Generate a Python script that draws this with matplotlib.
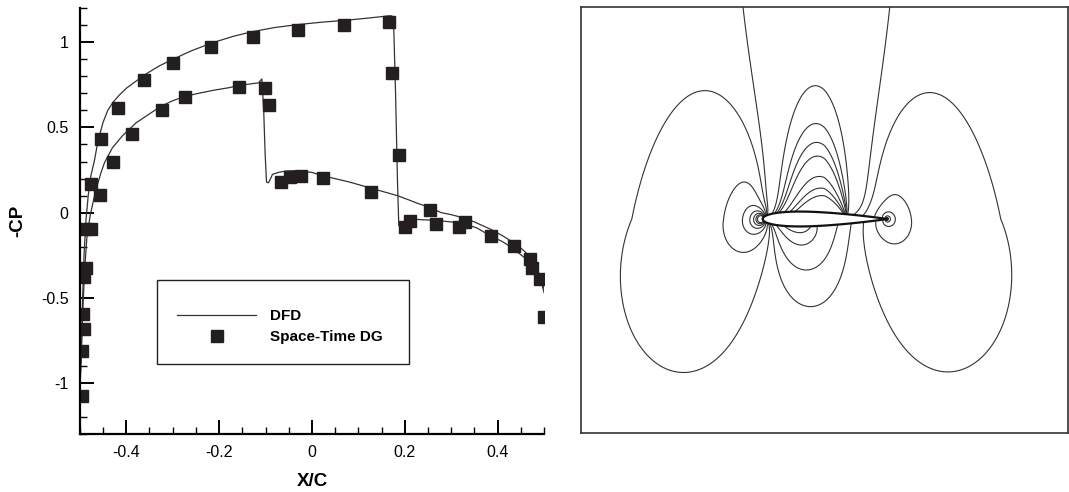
import numpy as np
import matplotlib
matplotlib.use("Agg")
import matplotlib.pyplot as plt
from matplotlib.ticker import MultipleLocator
from matplotlib.patches import Rectangle

plt.rcParams['font.family'] = ['Liberation Sans', 'DejaVu Sans']
plt.rcParams['axes.unicode_minus'] = False

# DFD surface distributions (-Cp), upper and lower surface
up_x = [-0.5, -0.497, -0.494, -0.491, -0.487, -0.482, -0.476, -0.469, -0.463, -0.456,
        -0.450, -0.440, -0.428, -0.415, -0.400, -0.380, -0.360, -0.330, -0.300, -0.260,
        -0.217, -0.170, -0.126, -0.080, -0.031, 0.020, 0.070, 0.120, 0.167, 0.172,
        0.176, 0.180, 0.184, 0.187, 0.194, 0.205, 0.217, 0.240, 0.263, 0.290,
        0.324, 0.355, 0.385, 0.410, 0.430, 0.453, 0.470, 0.482, 0.492, 0.500]
up_cp = [-1.05, -0.80, -0.50, -0.25, -0.05, 0.10, 0.22, 0.30, 0.39, 0.47,
         0.53, 0.60, 0.65, 0.69, 0.73, 0.77, 0.81, 0.86, 0.90, 0.95,
         0.995, 1.035, 1.064, 1.087, 1.104, 1.118, 1.129, 1.142, 1.156, 1.155,
         1.10, 0.70, 0.20, -0.078, -0.060, -0.045, -0.039, -0.042, -0.045, -0.052,
         -0.062, -0.090, -0.137, -0.170, -0.205, -0.254, -0.29, -0.33, -0.39, -0.47]

lo_x = [-0.5, -0.497, -0.494, -0.490, -0.485, -0.478, -0.470, -0.463, -0.455, -0.447,
        -0.430, -0.409, -0.379, -0.350, -0.325, -0.300, -0.272, -0.240, -0.211, -0.180,
        -0.157, -0.135, -0.115, -0.108, -0.104, -0.101, -0.098, -0.094, -0.090, -0.085,
        -0.072, -0.058, -0.040, -0.027, 0.000, 0.026, 0.080, 0.128, 0.186, 0.230,
        0.255, 0.278, 0.300, 0.324, 0.350, 0.385, 0.410, 0.434, 0.455, 0.470,
        0.482, 0.492, 0.500]
lo_cp = [-1.05, -0.85, -0.60, -0.35, -0.15, -0.02, 0.08, 0.156, 0.23, 0.293,
         0.38, 0.449, 0.527, 0.58, 0.625, 0.657, 0.684, 0.703, 0.719, 0.733,
         0.746, 0.755, 0.762, 0.785, 0.60, 0.35, 0.18, 0.175, 0.195, 0.225,
         0.236, 0.244, 0.246, 0.244, 0.236, 0.215, 0.180, 0.143, 0.098, 0.052,
         0.029, 0.000, -0.012, -0.029, -0.055, -0.098, -0.135, -0.176, -0.22, -0.26,
         -0.31, -0.38, -0.45]

# Space-Time DG points
dg_x = [-0.495, -0.495, -0.491, -0.494, -0.492, -0.486, -0.489, -0.476, -0.475, -0.456,
        -0.454, -0.429, -0.418, -0.388, -0.361, -0.324, -0.299, -0.273, -0.217, -0.157,
        -0.126, -0.102, -0.092, -0.066, -0.047, -0.031, -0.024, 0.024, 0.070, 0.128,
        0.166, 0.173, 0.187, 0.200, 0.211, 0.255, 0.267, 0.316, 0.330, 0.386,
        0.436, 0.469, 0.474, 0.492, 0.499]
dg_cp = [-1.074, -0.813, -0.686, -0.596, -0.381, -0.326, -0.098, -0.096, 0.168, 0.105,
         0.434, 0.297, 0.617, 0.463, 0.777, 0.602, 0.879, 0.678, 0.973, 0.736,
         1.031, 0.732, 0.631, 0.180, 0.209, 1.074, 0.215, 0.201, 1.102, 0.123,
         1.117, 0.820, 0.340, -0.084, -0.051, 0.014, -0.064, -0.084, -0.053, -0.135,
         -0.195, -0.273, -0.328, -0.391, -0.615]

# contour field settings
beta_up = 0.3   # far-field y-stretch above the airfoil
beta_lo = 0.7   # and below
rho = 0.2       # no stretch close to leading / trailing edge
thick = 0.12
levels_all = [-0.9, -0.75, -0.6, -0.45, -0.3, -0.15, -0.03, 0.06]
levels_up = [0.39, 0.5, 0.57, 0.63, 0.74, 0.82, 0.88]
levels_lo = [0.15, 0.3, 0.45, 0.6, 0.75]

fig = plt.figure(figsize=(10.69, 4.92), dpi=100)

# ---- left: Cp plot
ax = fig.add_axes([0.0747, 0.1179, 0.4343, 0.8653])
ax.plot(up_x, up_cp, color='#333333', lw=0.9, label='DFD')
ax.plot(lo_x, lo_cp, color='#333333', lw=0.9)
ax.plot(dg_x, dg_cp, 's', color='#231f20', ms=9, ls='none', label='Space-Time DG')
ax.set_xlim(-0.5, 0.5)
ax.set_ylim(-1.3, 1.2)
ax.spines['top'].set_visible(False)
ax.spines['right'].set_visible(False)
for s in ['left', 'bottom']:
    ax.spines[s].set_linewidth(1.6)
ax.xaxis.set_minor_locator(MultipleLocator(0.05))
ax.yaxis.set_minor_locator(MultipleLocator(0.1))
ax.set_xticks([-0.4, -0.2, 0, 0.2, 0.4])
ax.set_xticklabels(['-0.4', '-0.2', '0', '0.2', '0.4'])
ax.set_yticks([-1, -0.5, 0, 0.5, 1])
ax.set_yticklabels(['-1', '-0.5', '0', '0.5', '1'])
ax.tick_params(which='major', direction='in', length=10, width=1.4, labelsize=11.5, pad=8)
ax.tick_params(which='minor', direction='in', length=5, width=1.0)
ax.set_xlabel('X/C', fontsize=13.5, fontweight='bold', labelpad=9)
ax.set_ylabel('-CP', fontsize=13.5, fontweight='bold', labelpad=11)

ax.add_patch(Rectangle((0.1656, 0.1643), 0.5434, 0.1972, transform=ax.transAxes,
                       facecolor='white', edgecolor='#222222', lw=1.0, zorder=4))
leg = ax.legend(loc='center left', bbox_to_anchor=(0.2093, 0.2523), frameon=False,
                borderpad=0, borderaxespad=0, prop={'weight': 'bold', 'size': 11},
                handlelength=5.2, handletextpad=0.9, labelspacing=0.45)
leg.set_zorder(5)

# ---- right: pressure contours around the airfoil
# linearised field built from the surface -Cp: thickness part as a source sheet,
# lifting part as a vortex sheet, stretched in y away from the edges
tb = np.linspace(-0.5, 0.5, 401)
tm = 0.5 * (tb[1:] + tb[:-1])
f_up = np.interp(tm, up_x, up_cp)
f_lo = np.interp(tm, lo_x, lo_cp)
sym = 0.5 * (f_up + f_lo)
asym = 0.5 * (f_up - f_lo)

# source strengths so that the on-axis u' matches the symmetric part, closed body
A = np.log(np.abs((tm[:, None] - tb[None, :-1]) / (tm[:, None] - tb[None, 1:]))) / (2 * np.pi)
A = np.vstack([A, 50.0 * np.diff(tb)[None, :]])
rhs = np.r_[sym, 0.0]
sigma = np.linalg.lstsq(A, rhs, rcond=None)[0]

gx = np.linspace(-1.968, 1.968, 490)
gy = np.linspace(-1.726, 1.71, 430)
X, Y = np.meshgrid(gx, gy)
d = np.minimum(np.hypot(X + 0.5, Y), np.hypot(X - 0.5, Y))
b = np.where(Y >= 0, beta_up, beta_lo)
Ys = Y * (b + (1 - b) / (1 + (d / rho) ** 2))
Ys = np.where(np.abs(Ys) < 1e-5, 1e-5, Ys)
field = np.zeros_like(X)
prev_l = np.log((X - tb[0]) ** 2 + Ys ** 2)
prev_a = np.arctan((X - tb[0]) / Ys)
for k in range(len(tm)):
    cur_l = np.log((X - tb[k + 1]) ** 2 + Ys ** 2)
    cur_a = np.arctan((X - tb[k + 1]) / Ys)
    field += sigma[k] * 0.5 * (prev_l - cur_l) / (2 * np.pi)
    field += asym[k] * (prev_a - cur_a) / np.pi
    prev_l, prev_a = cur_l, cur_a

xc = X + 0.5
yt = 5 * thick * (0.2969 * np.sqrt(np.clip(xc, 0, 1)) - 0.1260 * xc - 0.3516 * xc ** 2
                  + 0.2843 * xc ** 3 - 0.1015 * xc ** 4)
inside = (xc >= 0) & (xc <= 1) & (np.abs(Y) <= yt)
field = np.ma.masked_where(inside, field)

ax2 = fig.add_axes([0.5435, 0.1199, 0.4555, 0.8659])
cstyle = dict(colors='#333333', linewidths=0.8, linestyles='solid')
ax2.contour(X, Y, field, levels=levels_all, **cstyle)
ax2.contour(X, Y, np.ma.masked_where(Y < 0, field), levels=levels_up, **cstyle)
ax2.contour(X, Y, np.ma.masked_where(Y > 0, field), levels=levels_lo, **cstyle)
sx = np.linspace(0, 1, 200)
st = 5 * thick * (0.2969 * np.sqrt(sx) - 0.1260 * sx - 0.3516 * sx ** 2
                  + 0.2843 * sx ** 3 - 0.1015 * sx ** 4)
ax2.fill(np.r_[sx, sx[::-1]] - 0.5, np.r_[st, -st[::-1]], facecolor='white',
         edgecolor='#111111', lw=1.6, zorder=3)
ax2.set_xlim(gx[0], gx[-1])
ax2.set_ylim(gy[0], gy[-1])
ax2.set_xticks([])
ax2.set_yticks([])
for s in ax2.spines.values():
    s.set_linewidth(1.2)
    s.set_color('#333333')

fig.savefig('out.png', dpi=100)
